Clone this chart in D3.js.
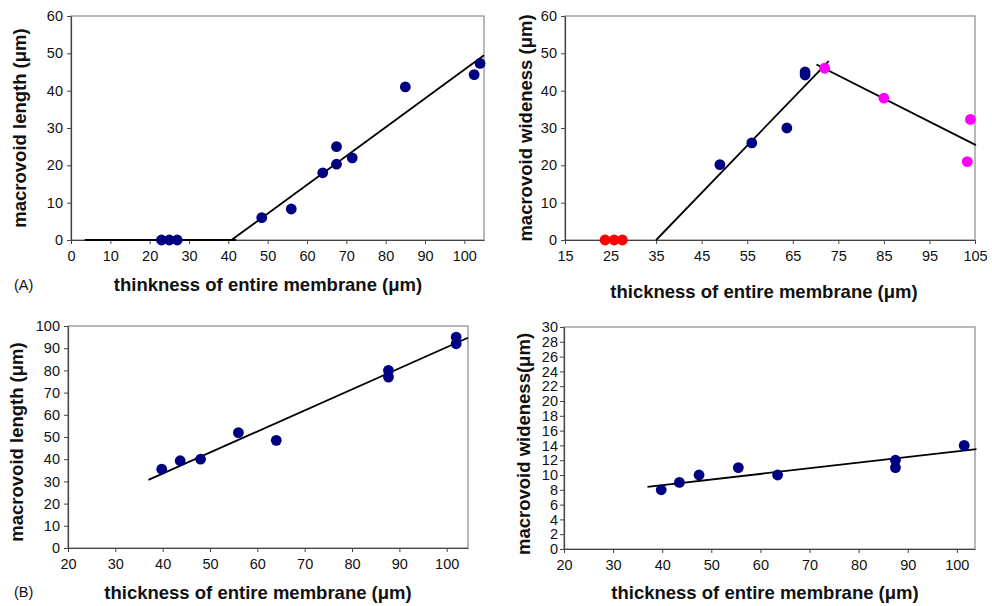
<!DOCTYPE html>
<html>
<head>
<meta charset="utf-8">
<script src="https://cdn.jsdelivr.net/npm/d3@7"></script>
<style>
  body { margin: 0; background: #fff; }
  svg text { font-family: "Liberation Sans", Arial, sans-serif; fill: #111; }
  .tick text { font-size: 14.5px; }
  .title { font-size: 18.5px; font-weight: bold; }
</style>
</head>
<body>
<svg id="chart" width="992" height="606"></svg>
<script>
// panel A: macrovoid length vs thickness
const aX = [23, 25, 27, 48.5, 56, 64, 67.5, 67.5, 71.5, 85, 102.5, 104];
const aY = [0, 0, 0, 6, 8.3, 18, 25, 20.3, 22, 41, 44.3, 47.3];
const aFlat = [[3.5, 0], [42, 0]];
const aFit = [[40.8, 0], [105, 49.5]];

// panel A right: macrovoid wideness, three groups
const bRedX = [23.8, 25.8, 27.6];
const bRedY = [0, 0, 0];
const bNavyX = [49, 56, 63.7, 67.7, 67.7];
const bNavyY = [20.2, 26, 30, 45, 44.2];
const bPinkX = [72, 85, 103.3, 104];
const bPinkY = [46, 38, 21, 32.3];
const bFitUp = [[35, 0], [72.9, 47.9]];
const bFitDown = [[70.2, 47], [105.2, 25.4]];

// panel B left
const cX = [39.8, 43.7, 48, 56, 64, 87.7, 87.7, 102, 102];
const cY = [35.5, 39.3, 40, 52, 48.5, 80, 77, 95, 92];
const cFit = [[37, 30.7], [104.5, 94.7]];

// panel B right
const dX = [39.8, 43.5, 47.5, 55.5, 63.5, 87.5, 87.5, 101.5];
const dY = [8, 9, 10, 11, 10, 12, 11, 14];
const dFit = [[37, 8.4], [104, 13.5]];

const navy = "#000080";
const svg = d3.select("#chart");

function drawPanel(p) {
  const x = d3.scaleLinear().domain(p.xDomain).range([p.left, p.right]);
  const y = d3.scaleLinear().domain(p.yDomain).range([p.bottom, p.top]);
  const g = svg.append("g");

  // frame
  g.append("rect")
    .attr("x", p.left).attr("y", p.top)
    .attr("width", p.right - p.left).attr("height", p.bottom - p.top)
    .attr("fill", "none").attr("stroke", "#8a8a8a").attr("stroke-width", 1.2);

  const xa = g.append("g")
    .attr("transform", `translate(0,${p.bottom})`)
    .call(d3.axisBottom(x).tickValues(p.xTicks).tickSize(4).tickPadding(7).tickSizeOuter(0));
  const ya = g.append("g")
    .attr("transform", `translate(${p.left},0)`)
    .call(d3.axisLeft(y).tickValues(p.yTicks).tickSize(4).tickPadding(p.yPad || 4).tickSizeOuter(0));
  [xa, ya].forEach((a) => {
    a.select(".domain").attr("stroke", "#444").attr("stroke-width", 1.2);
    a.selectAll(".tick line").attr("stroke", "#444");
    a.selectAll(".tick text").attr("fill", "#111");
  });

  const line = d3.line().x((d) => x(d[0])).y((d) => y(d[1]));
  p.lines.forEach((l) => {
    g.append("path").attr("d", line(l))
      .attr("fill", "none").attr("stroke", "#000").attr("stroke-width", 1.8);
  });

  p.series.forEach((s) => {
    g.selectAll(null)
      .data(s.xs.map((v, i) => [v, s.ys[i]]))
      .enter()
      .append("circle")
      .attr("cx", (d) => x(d[0]))
      .attr("cy", (d) => y(d[1]))
      .attr("r", 5.4)
      .attr("fill", s.color);
  });

  g.append("text").attr("class", "title")
    .attr("x", p.xTitlePos[0]).attr("y", p.xTitlePos[1])
    .attr("text-anchor", "middle").text(p.xTitle);
  g.append("text").attr("class", "title")
    .attr("transform", `translate(${p.yTitlePos[0]},${p.yTitlePos[1]}) rotate(-90)`)
    .attr("text-anchor", "middle").text(p.yTitle);
  if (p.tag) {
    g.append("text").attr("x", p.tag[0]).attr("y", p.tag[1])
      .style("font-size", "14.5px").text(p.tag[2]);
  }
}

drawPanel({
  left: 71, right: 484, top: 16, bottom: 240,
  xDomain: [0, 105], yDomain: [0, 60],
  xTicks: d3.range(0, 101, 10), yTicks: d3.range(0, 61, 10),
  lines: [aFlat, aFit],
  series: [{ xs: aX, ys: aY, color: navy }],
  xTitle: "thinkness of entire membrane (\u03bcm)", xTitlePos: [268, 291],
  yTitle: "macrovoid length (\u03bcm)", yTitlePos: [26, 128],
  tag: [14, 290, "(A)"]
});

drawPanel({
  left: 565, right: 975, top: 16, bottom: 240,
  xDomain: [15, 105], yDomain: [0, 60],
  xTicks: d3.range(15, 106, 10), yTicks: d3.range(0, 61, 10),
  lines: [bFitUp, bFitDown],
  series: [
    { xs: bRedX, ys: bRedY, color: "#ff0000" },
    { xs: bNavyX, ys: bNavyY, color: navy },
    { xs: bPinkX, ys: bPinkY, color: "#ff00ff" }
  ],
  xTitle: "thickness of entire membrane (\u03bcm)", xTitlePos: [764, 298],
  yTitle: "macrovoid wideness (\u03bcm)", yTitlePos: [532, 128]
});

drawPanel({
  left: 68, right: 468, top: 326, bottom: 548,
  xDomain: [20, 104.5], yDomain: [0, 100],
  xTicks: d3.range(20, 101, 10), yTicks: d3.range(0, 101, 10),
  lines: [cFit],
  series: [{ xs: cX, ys: cY, color: navy }],
  xTitle: "thickness of entire membrane (\u03bcm)", xTitlePos: [258, 599],
  yTitle: "macrovoid length (\u03bcm)", yTitlePos: [23, 442],
  tag: [14, 597, "(B)"]
});

drawPanel({
  left: 564, right: 975, top: 327, bottom: 549,
  xDomain: [20, 103.7], yDomain: [0, 30],
  xTicks: d3.range(20, 101, 10), yTicks: d3.range(0, 31, 2), yPad: 2,
  lines: [dFit],
  series: [{ xs: dX, ys: dY, color: navy }],
  xTitle: "thickness of entire membrane (\u03bcm)", xTitlePos: [765, 599],
  yTitle: "macrovoid wideness(\u03bcm)", yTitlePos: [530, 444]
});
</script>
</body>
</html>
